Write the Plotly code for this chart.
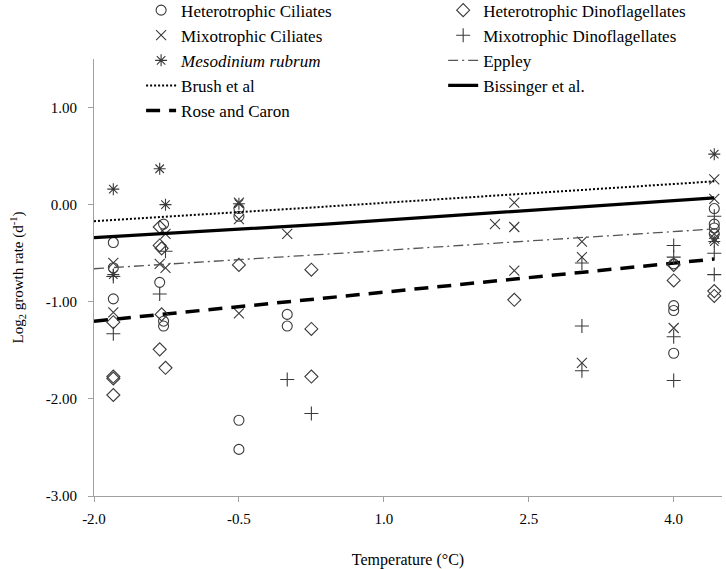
import plotly.graph_objects as go

# ---- data ----
hc_x = [-1.8, -1.8, -1.8, -1.28, -1.32, -1.28, -1.28, -0.5, -0.5, -0.5, -0.5, 0.0, 0.0,
        4.0, 4.0, 4.0, 4.0, 4.42, 4.42, 4.42, 4.42]
hc_y = [-0.39, -0.65, -0.97, -0.2, -0.8, -1.2, -1.25, -0.04, -0.12, -2.22, -2.52, -1.13, -1.25,
        -0.61, -1.04, -1.09, -1.53, -0.04, -0.2, -0.24, -0.3]

hd_x = [-1.8, -1.8, -1.8, -1.8, -1.32, -1.32, -1.3, -1.3, -1.32, -1.26, -0.5, 0.25, 0.25, 0.25,
        2.35, 4.0, 4.0, 4.42, 4.42]
hd_y = [-1.21, -1.77, -1.79, -1.96, -0.23, -0.42, -0.45, -1.13, -1.49, -1.68, -0.62, -0.67, -1.28, -1.77,
        -0.98, -0.62, -0.78, -0.89, -0.94]

mc_x = [-1.8, -1.8, -1.26, -1.32, -1.26, -0.5, -0.5, -0.5, 0.0, 2.15, 2.35, 2.35, 2.35,
        3.05, 3.05, 3.05, 4.0, 4.42, 4.42, 4.42, 4.42]
mc_y = [-0.6, -1.11, -0.3, -0.61, -0.65, 0.02, -0.15, -1.12, -0.3, -0.2, 0.02, -0.23, -0.68,
        -0.38, -0.54, -1.63, -1.27, 0.26, 0.06, -0.3, -0.35]

md_x = [-1.8, -1.8, -1.26, -1.32, 0.0, 0.25, 3.05, 3.05, 3.05, 4.0, 4.0, 4.0, 4.0, 4.42, 4.42, 4.42]
md_y = [-0.74, -1.33, -0.48, -0.92, -1.8, -2.15, -0.6, -1.25, -1.71, -0.42, -0.54, -1.36, -1.81,
        -0.12, -0.5, -0.72]

mr_x = [-1.8, -1.8, -1.32, -1.26, -0.5, 4.42, 4.42]
mr_y = [0.16, -0.72, 0.37, 0.0, 0.01, 0.52, -0.38]

line_x = [-2.0, 0.4, 4.42]
eppley_y = [-0.66, -0.51, -0.25]
brush_y = [-0.17, -0.02, 0.24]
bissinger_y = [-0.34, -0.2, 0.07]
rose_y = [-1.2, -0.96, -0.56]

x_ticks = [-2.0, -0.5, 1.0, 2.5, 4.0]
y_ticks = [-3.0, -2.0, -1.0, 0.0, 1.0]

FONT = "Liberation Serif, Times New Roman, serif"
MK = "#3a3a3a"

fig = go.Figure()

def pts(x, y, name, symbol, size, legend):
    fig.add_trace(go.Scatter(
        x=x, y=y, mode="markers", name=name, legend=legend, cliponaxis=False,
        marker=dict(symbol=symbol, size=size, color=MK,
                    line=dict(color=MK, width=1.1))))

# left legend column
pts(hc_x, hc_y, "Heterotrophic Ciliates", "circle-open", 10, "legend")
pts(mc_x, mc_y, "Mixotrophic Ciliates", "x-thin-open", 10, "legend")
pts(mr_x, mr_y, "<i>Mesodinium rubrum</i>", "asterisk-open", 10, "legend")
fig.add_trace(go.Scatter(x=line_x, y=brush_y, mode="lines", name="Brush et al", legend="legend",
                         line=dict(color="black", width=2, dash="2px,2px")))
fig.add_trace(go.Scatter(x=line_x, y=rose_y, mode="lines", name="Rose and Caron", legend="legend",
                         line=dict(color="black", width=3.5, dash="14px,9px")))
# right legend column
pts(hd_x, hd_y, "Heterotrophic Dinoflagellates", "diamond-open", 10, "legend2")
pts(md_x, md_y, "Mixotrophic Dinoflagellates", "cross-thin-open", 10, "legend2")
fig.add_trace(go.Scatter(x=line_x, y=eppley_y, mode="lines", name="Eppley", legend="legend2",
                         line=dict(color="#555555", width=1.3, dash="10px,4px,2px,4px")))
fig.add_trace(go.Scatter(x=line_x, y=bissinger_y, mode="lines", name="Bissinger et al.", legend="legend2",
                         line=dict(color="black", width=3.2)))

leg_common = dict(orientation="v", yanchor="top", xanchor="left", y=1.152,
                  font=dict(family=FONT, size=17, color="black"),
                  bgcolor="rgba(0,0,0,0)", tracegroupgap=0)

fig.update_layout(
    width=726, height=569,
    paper_bgcolor="white", plot_bgcolor="white",
    margin=dict(l=94, r=4, t=59, b=73, autoexpand=False),
    font=dict(family=FONT, size=15, color="black"),
    showlegend=True,
    legend=dict(x=0.075, **leg_common),
    legend2=dict(x=0.556, **leg_common),
    xaxis=dict(range=[-2.0, 4.5], tickmode="array", tickvals=x_ticks,
               ticktext=[f"{v:.1f}" for v in x_ticks],
               showgrid=False, zeroline=False, showline=True, linecolor="#a0a0a0",
               linewidth=1, ticks="outside", tickcolor="#a0a0a0", ticklen=5,
               ticklabelstandoff=4,
               tickfont=dict(size=15),
               title=dict(text="Temperature (°C)", font=dict(size=16), standoff=27)),
    yaxis=dict(range=[-3.0, 1.5], tickmode="array", tickvals=y_ticks,
               ticktext=[f"{v:.2f}" for v in y_ticks],
               showgrid=False, zeroline=False, showline=True, linecolor="#a0a0a0",
               linewidth=1, ticks="outside", tickcolor="#a0a0a0", ticklen=5,
               ticklabelstandoff=8,
               tickfont=dict(size=15),
               title=dict(text="Log<sub>2</sub> growth rate (d<sup>-1</sup>)",
                          font=dict(size=15), standoff=18)),
)

fig.write_html("out.html", config={"displayModeBar": False},
               post_script="document.body.style.margin='0px';document.body.style.overflow='hidden';")
